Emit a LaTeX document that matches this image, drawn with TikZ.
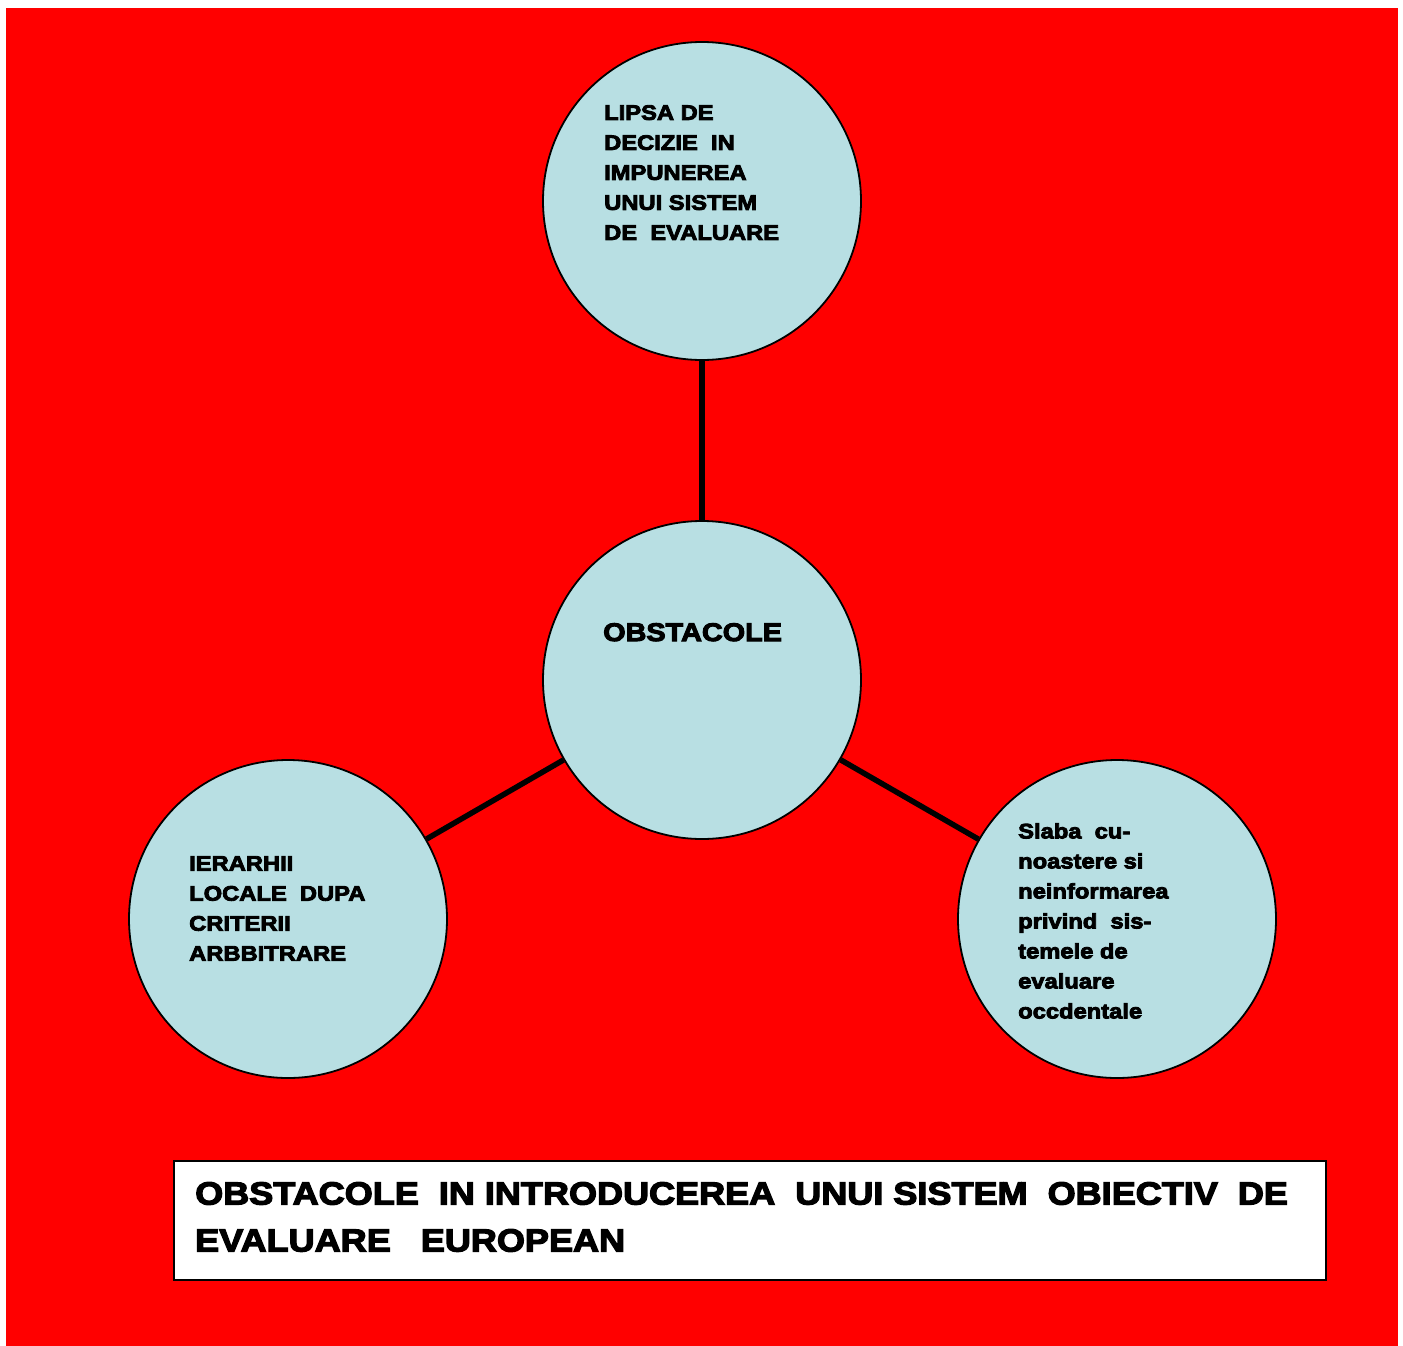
\documentclass[tikz,border=0pt]{standalone}
\usepackage{fontspec}
\setmainfont{Liberation Sans}[BoldFeatures={FakeStretch=1.13,FakeBold=4}]
\definecolor{pagered}{RGB}{255,0,0}
\definecolor{bubblefill}{RGB}{184,223,227}
\begin{document}
\begin{tikzpicture}[x=1pt,y=-1pt]
\tikzset{
  bubble/.style={circle, draw=black, line width=1.8pt, fill=bubblefill,
    minimum size=318pt, inner sep=0pt},
  link/.style={draw=black, line width=5.5pt},
  bubbletext/.style={anchor=north west, inner sep=0pt, align=left,
    font=\bfseries\fontsize{21}{30}\selectfont},
  titlebox/.style={draw=black, line width=1.8pt, fill=white}
}
\useasboundingbox (0,0) rectangle (1403,1346);
\fill[pagered] (6,8) rectangle (1398,1346);

% the four circles
\node[bubble] (top) at (702,201) {};
\node[bubble] (mid) at (702,680) {};
\node[bubble] (left) at (288,919) {};
\node[bubble] (right) at (1117,919) {};

% spokes from the central circle
\draw[link] (mid) -- (top);
\draw[link] (mid) -- (left);
\draw[link] (mid) -- (right);

% circle labels
\node[bubbletext] (ttop) at (604,105)
  {LIPSA DE\\DECIZIE~ IN\\IMPUNEREA\\UNUI SISTEM\\DE~ EVALUARE};
\node[bubbletext, font=\bfseries\fontsize{25.5}{30}\selectfont] (tmid) at (603,623)
  {OBSTACOLE};
\node[bubbletext] (tleft) at (189,856)
  {IERARHII\\LOCALE~ DUPA\\CRITERII\\ARBBITRARE};
\node[bubbletext] (tright) at (1018,823)
  {Slaba~ cu-\\noastere si\\neinformarea\\privind~ sis-\\temele de\\evaluare\\occdentale};

% caption box
\path[titlebox] (174,1161) rectangle (1326,1280);
\node[bubbletext, font=\bfseries\fontsize{31.9}{47}\selectfont] (title) at (195,1182)
  {OBSTACOLE~ IN INTRODUCEREA~ UNUI SISTEM~ OBIECTIV~ DE\\EVALUARE~~ EUROPEAN};
\end{tikzpicture}
\end{document}
